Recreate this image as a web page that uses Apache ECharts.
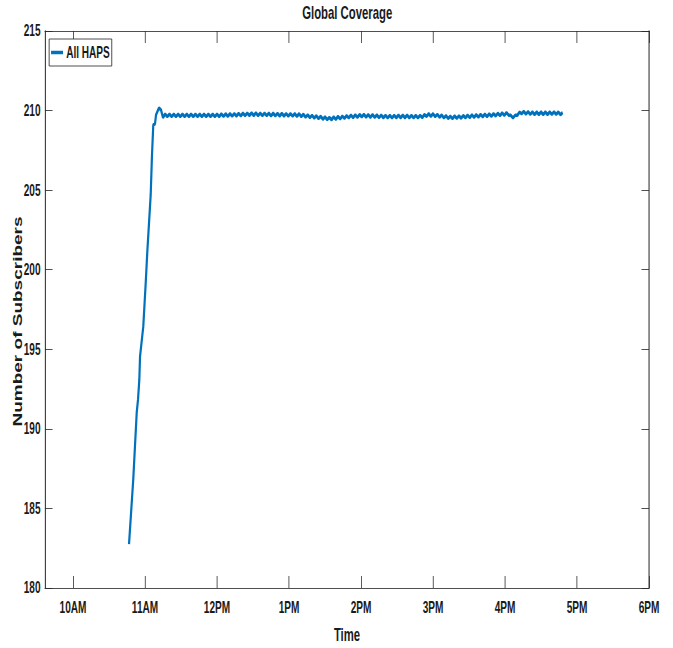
<!DOCTYPE html>
<html>
<head>
<meta charset="utf-8">
<script src="https://cdn.jsdelivr.net/npm/echarts@6/dist/echarts.min.js"></script>
<style>
html,body{margin:0;padding:0;background:#fff;}
#wrap{width:673px;height:648px;overflow:hidden;position:relative;}
#chart{width:1068px;height:648px;transform:scaleX(0.63015);transform-origin:0 0;}
</style>
</head>
<body>
<div id="wrap"><div id="chart"></div></div>
<script>
// ---- data (hours of day, number of subscribers) ----
const tickHours = [10, 11, 12, 13, 14, 15, 16, 17, 18];
const tickLabels = ["10AM", "11AM", "12PM", "1PM", "2PM", "3PM", "4PM", "5PM", "6PM"];
const seriesName = "All HAPS";

const riseTimes = [10.778, 10.837, 10.885, 10.903, 10.921, 10.931, 10.976, 11.010, 11.032, 11.079, 11.097, 11.115, 11.139, 11.153, 11.194, 11.222];
const riseValues = [182.76, 186.84, 191.04, 191.85, 193.10, 194.55, 196.43, 199.19, 201.14, 204.71, 207.22, 209.10, 209.17, 209.73, 210.17, 210.04];

const plateauTimes = [
 11.25,11.28,11.31,11.34,11.37,11.40,11.43,11.46,11.49,11.52,
 11.55,11.58,11.61,11.64,11.67,11.70,11.73,11.76,11.79,11.82,
 11.85,11.88,11.91,11.94,11.97,12.00,12.03,12.06,12.09,12.12,
 12.15,12.18,12.21,12.24,12.27,12.30,12.33,12.36,12.39,12.42,
 12.45,12.48,12.51,12.54,12.57,12.60,12.63,12.66,12.69,12.72,
 12.75,12.78,12.81,12.84,12.87,12.90,12.93,12.96,12.99,13.02,
 13.05,13.08,13.11,13.14,13.17,13.20,13.23,13.26,13.29,13.32,
 13.35,13.38,13.41,13.44,13.47,13.50,13.53,13.56,13.59,13.62,
 13.65,13.68,13.71,13.74,13.77,13.80,13.83,13.86,13.89,13.92,
 13.95,13.98,14.01,14.04,14.07,14.10,14.13,14.16,14.19,14.22,
 14.25,14.28,14.31,14.34,14.37,14.40,14.43,14.46,14.49,14.52,
 14.55,14.58,14.61,14.64,14.67,14.70,14.73,14.76,14.79,14.82,
 14.85,14.88,14.91,14.94,14.97,15.00,15.03,15.06,15.09,15.12,
 15.15,15.18,15.21,15.24,15.27,15.30,15.33,15.36,15.39,15.42,
 15.45,15.48,15.51,15.54,15.57,15.60,15.63,15.66,15.69,15.72,
 15.75,15.78,15.81,15.84,15.87,15.90,15.93,15.96,15.99,16.02,
 16.05,16.08,16.11,16.14,16.17,16.20,16.23,16.26,16.29,16.32,
 16.35,16.38,16.41,16.44,16.47,16.50,16.53,16.56,16.59,16.62,
 16.65,16.68,16.71,16.74,16.77,16.80
];
const plateauValues = [
 209.56,209.78,209.62,209.78,209.62,209.78,209.62,209.78,209.62,209.78,
 209.62,209.78,209.62,209.78,209.62,209.78,209.62,209.78,209.62,209.78,
 209.62,209.78,209.62,209.78,209.62,209.78,209.62,209.79,209.63,209.80,
 209.64,209.80,209.65,209.81,209.66,209.82,209.67,209.83,209.68,209.84,
 209.69,209.85,209.69,209.85,209.68,209.84,209.68,209.84,209.68,209.83,
 209.67,209.83,209.67,209.82,209.66,209.82,209.66,209.81,209.65,209.81,
 209.65,209.80,209.64,209.80,209.62,209.77,209.59,209.73,209.56,209.70,
 209.53,209.67,209.49,209.64,209.46,209.60,209.43,209.57,209.42,209.60,
 209.45,209.63,209.48,209.65,209.51,209.68,209.54,209.71,209.56,209.73,
 209.58,209.75,209.60,209.76,209.59,209.75,209.58,209.74,209.57,209.72,
 209.56,209.71,209.55,209.70,209.54,209.70,209.54,209.70,209.55,209.71,
 209.55,209.71,209.55,209.71,209.54,209.70,209.54,209.70,209.54,209.70,
 209.56,209.74,209.64,209.80,209.64,209.80,209.62,209.76,209.58,209.72,
 209.54,209.68,209.50,209.64,209.49,209.66,209.51,209.67,209.52,209.69,
 209.54,209.71,209.56,209.73,209.57,209.74,209.59,209.76,209.61,209.78,
 209.62,209.79,209.64,209.81,209.66,209.83,209.68,209.85,209.70,209.87,
 209.71,209.70,209.54,209.70,209.70,209.90,209.80,209.95,209.78,209.93,
 209.76,209.91,209.75,209.91,209.75,209.91,209.75,209.91,209.75,209.91,
 209.76,209.92,209.76,209.91,209.74,209.88
];

const times = riseTimes.concat(plateauTimes);
const values = riseValues.concat(plateauValues);
const lineData = times.map((t, i) => [t, values[i]]);

const FONT = '"Liberation Sans", Arial, Helvetica, sans-serif';
const INK = '#1a1a1a';
const AX = '#262626';
const BLUE = '#0072BD';

const chart = echarts.init(document.getElementById('chart'), null, {renderer: 'svg'});
const xCommon = {
  type: 'value', min: 9.611, max: 18,
  splitLine: {show: false},
  axisLine: {show: true, onZero: false, lineStyle: {color: AX, width: 1}},
  axisTick: {show: true, inside: true, length: 12, customValues: tickHours, lineStyle: {color: AX, width: 1.2}}
};
const yCommon = {
  type: 'value', min: 180, max: 215, interval: 5,
  splitLine: {show: false},
  axisLine: {show: true, onZero: false, lineStyle: {color: AX, width: 1.6}},
  axisTick: {show: true, inside: true, length: 12, lineStyle: {color: AX, width: 1}}
};
chart.setOption({
  animation: false,
  backgroundColor: '#fff',
  title: {
    text: 'Global Coverage', left: 551, top: 3, textAlign: 'center', padding: 0,
    textStyle: {fontFamily: FONT, fontSize: 18, fontWeight: 'bold', color: INK}
  },
  legend: {
    left: 78, top: 39, orient: 'vertical',
    padding: [5, 3, 5, 3], itemWidth: 19, itemHeight: 3.5, itemGap: 0,
    icon: 'rect',
    itemStyle: {color: BLUE},
    borderColor: AX, borderWidth: 1, backgroundColor: '#fff',
    textStyle: {fontFamily: FONT, fontSize: 16, fontWeight: 'bold', color: INK, lineHeight: 17},
    data: [seriesName]
  },
  grid: {left: 71.4, right: 38, top: 31, bottom: 59, containLabel: false},
  xAxis: [
    Object.assign({}, xCommon, {
      position: 'bottom',
      axisLabel: {
        show: true, customValues: tickHours, margin: 12,
        fontFamily: FONT, fontSize: 16, fontWeight: 'bold', color: INK,
        formatter: v => tickLabels[tickHours.indexOf(v)] || ''
      },
      name: 'Time', nameLocation: 'middle', nameGap: 37, nameMoveOverlap: false,
      nameTextStyle: {fontFamily: FONT, fontSize: 18, fontWeight: 'bold', color: INK}
    }),
    Object.assign({}, xCommon, {position: 'top', axisLabel: {show: false}})
  ],
  yAxis: [
    Object.assign({}, yCommon, {
      position: 'left',
      axisLabel: {show: true, margin: 7, fontFamily: FONT, fontSize: 16, fontWeight: 'bold', color: INK},
      name: 'Number of Subscribers', nameLocation: 'middle', nameGap: 34, nameMoveOverlap: false,
      nameTextStyle: {fontFamily: FONT, fontSize: 19, fontWeight: 'bold', color: INK, padding: [0, 24, 0, 0]}
    }),
    Object.assign({}, yCommon, {position: 'right', axisLabel: {show: false}})
  ],
  series: [{
    name: seriesName, type: 'line', xAxisIndex: 0, yAxisIndex: 0,
    data: lineData, showSymbol: false, symbol: 'none',
    lineStyle: {color: BLUE, width: 3.5},
    itemStyle: {color: BLUE}
  }]
});
</script>
</body>
</html>
